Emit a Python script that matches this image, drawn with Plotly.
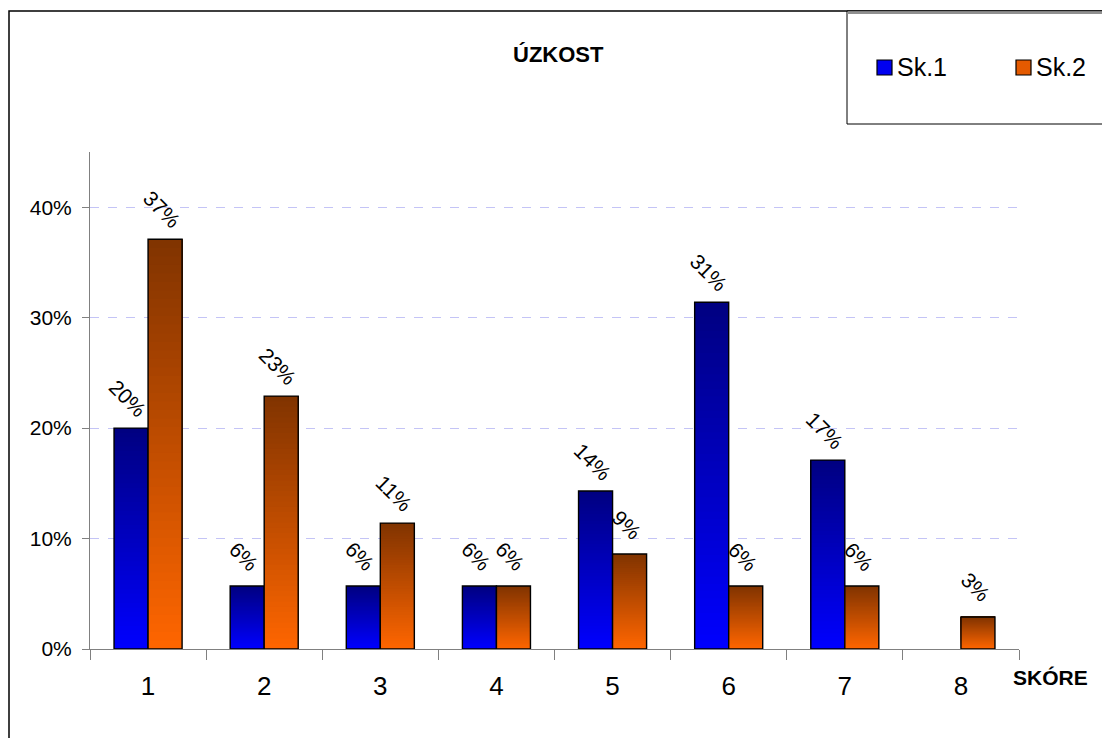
import plotly.graph_objects as go

categories = ["1", "2", "3", "4", "5", "6", "7", "8"]
sk1 = [20.0, 5.7, 5.7, 5.7, 14.3, 31.4, 17.1, 0.0]
sk2 = [37.1, 22.9, 11.4, 5.7, 8.6, 5.7, 5.7, 2.9]
series_names = ["Sk.1", "Sk.2"]
y_ticks = [0, 10, 20, 30, 40]

FONT = "Liberation Sans, Arial, sans-serif"
# page body has an 8px margin; lay out in reference pixels and compensate
OFF = 8
W, H = 1110 - OFF, 738 - OFF
PX0, PX1, PY0, PY1 = 90, 1019, 152, 649   # plot area in reference pixels
PW, PH = PX1 - PX0, PY1 - PY0
L, T = PX0 - OFF, PY0 - OFF
R, B = W - L - PW, H - T - PH


def px(x):
    return (x - PX0) / PW


def py(y):
    return (PY1 - y) / PH


# gradient colours: (top colour, bottom colour)
grads = [((0, 0, 128), (0, 0, 255)), ((128, 51, 0), (255, 102, 0))]
legend_cols = ["#0000F0", "#E45A00"]
N = 48

fig = go.Figure()


def mix(c0, c1, t):
    return "rgb(%d,%d,%d)" % tuple(round(a + (b - a) * t) for a, b in zip(c0, c1))


for si, vals in enumerate([sk1, sk2]):
    top, bot = grads[si]
    for k in range(N):
        t = (k + 0.5) / N  # 0 bottom -> 1 top
        fig.add_trace(go.Bar(
            x=categories,
            y=[v * (N - k) / N for v in vals],
            base=[v * k / N for v in vals],
            offsetgroup=str(si),
            marker=dict(color=mix(bot, top, t), line=dict(width=0)),
            showlegend=False, hoverinfo="skip",
        ))
    # outline
    fig.add_trace(go.Bar(
        x=categories,
        y=[v if v > 0 else None for v in vals],
        base=[0] * len(vals),
        offsetgroup=str(si),
        marker=dict(color="rgba(0,0,0,0)", line=dict(color="black", width=1.4)),
        name=series_names[si], showlegend=False, hoverinfo="skip",
    ))

# data labels
for si, vals in enumerate([sk1, sk2]):
    shift = -17 if si == 0 else 17
    for i, v in enumerate(vals):
        if v <= 0:
            continue
        fig.add_annotation(
            x=i, y=v, xref="x", yref="y", text="%d%%" % round(v),
            showarrow=False, textangle=45, xshift=shift - 3, yshift=30,
            xanchor="center", yanchor="middle",
            font=dict(family=FONT, size=21, color="black"),
        )

# chart title and axis label
fig.add_annotation(x=px(558), y=py(55), xref="paper", yref="paper",
                   text="<b>ÚZKOST</b>", showarrow=False,
                   xanchor="center", yanchor="middle",
                   font=dict(family=FONT, size=22, color="black"))
fig.add_annotation(x=px(1050), y=py(677), xref="paper", yref="paper",
                   text="<b>SKÓRE</b>", showarrow=False,
                   xanchor="center", yanchor="middle",
                   font=dict(family=FONT, size=21, color="black"))

# outer chart border (top + left visible) and legend box
fig.add_shape(type="rect", xref="paper", yref="paper",
              x0=px(OFF + 1), x1=px(1130), y0=py(760), y1=py(11),
              line=dict(color="black", width=1.5), fillcolor="rgba(0,0,0,0)")
fig.add_shape(type="rect", xref="paper", yref="paper",
              x0=px(847), x1=px(1130), y0=py(124), y1=py(11),
              line=dict(color="black", width=1), fillcolor="white")
fig.add_shape(type="line", xref="paper", yref="paper",
              x0=px(847), x1=px(1130), y0=py(13), y1=py(13),
              line=dict(color="#909090", width=2))

# legend entries
legend_x = [877, 1016]
for si, name in enumerate(series_names):
    x0 = legend_x[si]
    fig.add_shape(type="rect", xref="paper", yref="paper",
                  x0=px(x0), x1=px(x0 + 15), y0=py(75), y1=py(60),
                  line=dict(color="black", width=1.2), fillcolor=legend_cols[si])
    fig.add_annotation(x=px(x0 + 18), y=py(67), xref="paper", yref="paper",
                       text=name, showarrow=False, xanchor="left", yanchor="middle",
                       font=dict(family=FONT, size=25, color="black"))

fig.update_layout(
    width=W, height=H,
    margin=dict(l=L, r=R, t=T, b=B, pad=0, autoexpand=False),
    paper_bgcolor="white", plot_bgcolor="white",
    barmode="group", bargap=0.414, bargroupgap=0,
    showlegend=False,
    font=dict(family=FONT, color="black"),
)
fig.update_xaxes(
    type="category", categoryorder="array", categoryarray=categories,
    range=[-0.5, len(categories) - 0.5],
    showline=True, linecolor="#808080", linewidth=1,
    ticks="outside", tickson="boundaries", ticklen=10, tickcolor="#808080",
    ticklabelstandoff=14,
    tickfont=dict(family=FONT, size=26, color="black"),
    showgrid=False, zeroline=False,
)
fig.update_yaxes(
    range=[0, 45], tickvals=y_ticks, ticktext=["%d%%" % v for v in y_ticks],
    showline=True, linecolor="#808080", linewidth=1,
    ticks="outside", ticklen=7, tickcolor="#808080", ticklabelstandoff=6,
    tickfont=dict(family=FONT, size=21, color="black"),
    showgrid=True, gridcolor="#C4C4F6", griddash="dash", gridwidth=1,
    zeroline=False,
)

fig.write_html("out.html")
